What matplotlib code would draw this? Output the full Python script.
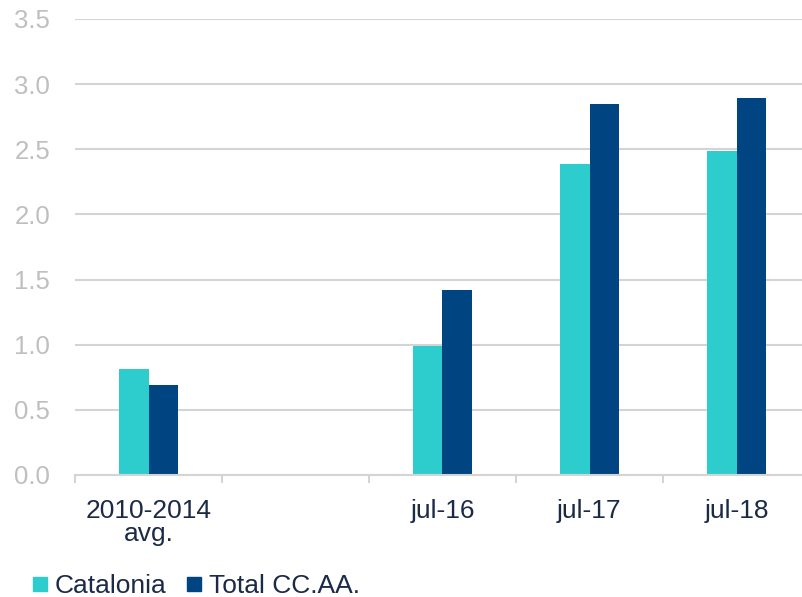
import matplotlib
matplotlib.use("Agg")
import matplotlib.pyplot as plt
from matplotlib.lines import Line2D
import numpy as np

categories = ["2010-2014\navg.", "", "jul-16", "jul-17", "jul-18"]
catalonia = [0.81, None, 0.99, 2.39, 2.49]
total_ccaa = [0.69, None, 1.42, 2.85, 2.89]
series_names = ["Catalonia", "Total CC.AA."]
yticks = [0.0, 0.5, 1.0, 1.5, 2.0, 2.5, 3.0, 3.5]

c_cat = "#2ECDCD"
c_tot = "#004481"
txt = "#1B2A47"
grid_c = "#D4D4D4"

plt.rcParams['font.family'] = ['Liberation Sans', 'DejaVu Sans']

fig = plt.figure(figsize=(8.02, 5.97), dpi=100)
ax = fig.add_axes([75/802, 122/597, 727/802, (475-19)/597])

x = np.arange(len(categories))
w = 0.204
for i in range(len(categories)):
    if catalonia[i] is not None:
        ax.bar(x[i] - w/2, catalonia[i], w, color=c_cat, zorder=3)
    if total_ccaa[i] is not None:
        ax.bar(x[i] + w/2, total_ccaa[i], w, color=c_tot, zorder=3)

ax.set_xlim(-0.5, -0.5 + 727/147)
ax.set_ylim(0, 3.5)
ax.set_yticks(yticks)
ax.set_yticklabels([f"{v:.1f}" for v in yticks], color="#BFBFBF", fontsize=18.5)
ax.yaxis.grid(True, color=grid_c, linewidth=1.5, zorder=0)
ax.set_axisbelow(True)

ax.set_xticks(x)
ax.set_xticklabels(categories, color=txt, fontsize=19, linespacing=0.95)
ax.set_xticks(np.arange(-0.5, len(categories) - 0.5, 1.0), minor=True)
ax.tick_params(axis='x', which='major', length=0, pad=17)
ax.tick_params(axis='x', which='minor', length=6, color=grid_c, width=1.5)
ax.tick_params(axis='y', length=0, pad=18)

for s in ['top', 'right', 'left']:
    ax.spines[s].set_visible(False)
ax.spines['bottom'].set_color(grid_c)
ax.spines['bottom'].set_linewidth(1.5)
ax.spines['bottom'].set_zorder(4)

handles = [Line2D([], [], marker='s', linestyle='none', markersize=10, color=c_cat),
           Line2D([], [], marker='s', linestyle='none', markersize=10, color=c_tot)]
leg = fig.legend(handles, series_names, loc='center left',
                 bbox_to_anchor=(22/802, 1 - 586/597), ncol=2, frameon=False,
                 fontsize=19, handlelength=0.6, handletextpad=0.25,
                 columnspacing=0.75, borderaxespad=0)
for t in leg.get_texts():
    t.set_color(txt)

fig.savefig("out.png", dpi=100)
